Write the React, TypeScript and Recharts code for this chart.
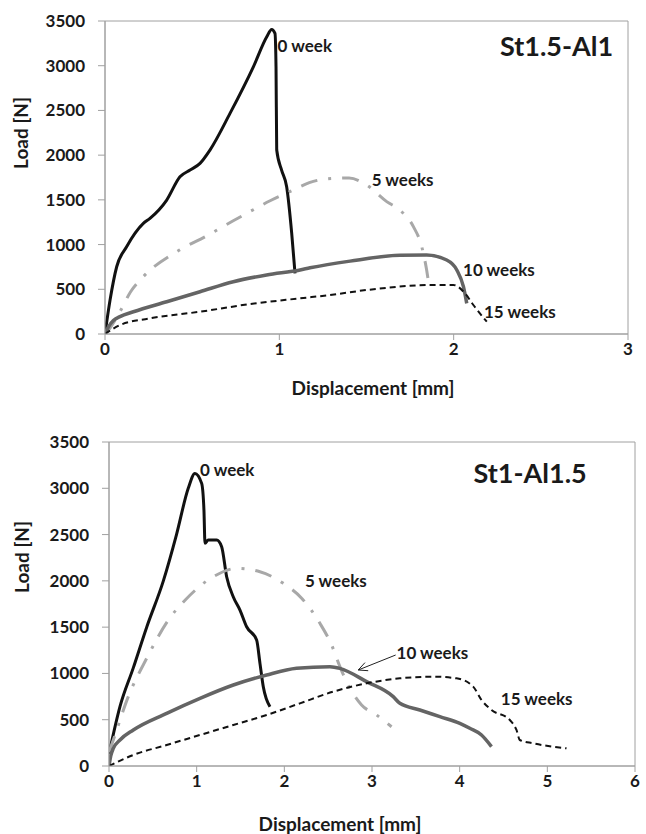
import React from "react"
import {
  LineChart, Line, XAxis, YAxis, ReferenceArea, ReferenceDot, ReferenceLine,
} from "recharts"

const FONT = "Lato, 'Open Sans', sans-serif"
const AXIS = "#a0a0a0"
const INK = "#1a1a1a"

/* St1.5-Al1 (panel oben) */
const a0X = [0, 0.029, 0.067, 0.124, 0.22, 0.258, 0.354, 0.43, 0.488, 0.545, 0.602, 0.717, 0.851, 0.928, 0.956, 0.975, 0.981, 0.985, 1.013, 1.042, 1.071, 1.09]
const a0Y = [0, 380, 752, 976, 1237, 1293, 1498, 1758, 1833, 1908, 2057, 2467, 2988, 3324, 3406, 3362, 2988, 2057, 1833, 1647, 1126, 679]
const a5X = [0, 0.03, 0.086, 0.147, 0.22, 0.427, 0.574, 0.733, 0.841, 0.947, 1.071, 1.172, 1.3, 1.4, 1.5, 1.616, 1.692, 1.769, 1.817, 1.845, 1.861]
const a5Y = [0, 70, 249, 473, 641, 939, 1088, 1263, 1379, 1490, 1602, 1692, 1740, 1745, 1666, 1480, 1385, 1200, 975, 715, 510]
const a10X = [0, 0.02, 0.048, 0.086, 0.163, 0.354, 0.545, 0.736, 0.927, 1.119, 1.176, 1.406, 1.692, 1.845, 1.96, 2.018, 2.056, 2.075]
const a10Y = [0, 80, 150, 194, 249, 361, 473, 585, 660, 716, 740, 815, 880, 883, 827, 716, 529, 343]
const a15X = [0, 0.086, 0.258, 0.545, 0.832, 1.119, 1.291, 1.501, 1.884, 1.998, 2.065, 2.113, 2.19]
const a15Y = [0, 100, 175, 249, 335, 399, 436, 492, 548, 548, 455, 324, 138]

/* St1-Al1.5 (panel unten) */
const b0X = [0, 0.125, 0.277, 0.43, 0.62, 0.77, 0.904, 0.98, 1.057, 1.083, 1.095, 1.132, 1.228, 1.285, 1.342, 1.417, 1.494, 1.57, 1.684, 1.722, 1.76, 1.836]
const b0Y = [130, 641, 1060, 1500, 2000, 2500, 3000, 3161, 3053, 2765, 2405, 2441, 2441, 2369, 2045, 1829, 1685, 1504, 1361, 1109, 857, 641]
const b5X = [0, 0.049, 0.22, 0.43, 0.677, 0.87, 1.19, 1.456, 1.722, 1.988, 2.2, 2.406, 2.539, 2.634, 2.729, 2.881, 3.052, 3.223]
const b5Y = [150, 281, 749, 1163, 1577, 1793, 2045, 2135, 2099, 1973, 1810, 1541, 1307, 1073, 875, 659, 551, 424]
const b10X = [0, 0.02, 0.049, 0.125, 0.277, 0.658, 1.038, 1.418, 1.798, 2.14, 2.52, 2.634, 2.938, 3.242, 3.318, 3.546, 3.774, 4.002, 4.116, 4.249, 4.363]
const b10Y = [0, 110, 190, 281, 389, 569, 731, 875, 983, 1055, 1073, 1055, 911, 749, 677, 605, 533, 461, 407, 335, 209]
const b15X = [0, 0.277, 0.658, 1.038, 1.418, 1.798, 2.178, 2.558, 2.938, 3.318, 3.698, 3.965, 4.154, 4.249, 4.363, 4.572, 4.648, 4.686, 4.838, 5.219]
const b15Y = [0, 119, 227, 335, 443, 551, 677, 803, 893, 947, 965, 947, 857, 713, 605, 497, 389, 281, 245, 191]

const loadTicks = [0, 500, 1000, 1500, 2000, 2500, 3000, 3500]
const topXTicks = [0, 1, 2, 3]
const botXTicks = [0, 1, 2, 3, 4, 5, 6]

const seriesNames = ["0 week", "5 weeks", "10 weeks", "15 weeks"]

/* Beschriftungen an den Kurven, in Datenkoordinaten */
const topNotes = [
  { text: seriesNames[0], x: 0.99, y: 3215 },
  { text: seriesNames[1], x: 1.53, y: 1722 },
  { text: seriesNames[2], x: 2.054, y: 716 },
  { text: seriesNames[3], x: 2.174, y: 246 },
]
const botNotes = [
  { text: seriesNames[0], x: 1.038, y: 3197 },
  { text: seriesNames[1], x: 2.235, y: 1998 },
  { text: seriesNames[2], x: 3.28, y: 1220 },
  { text: seriesNames[3], x: 4.47, y: 724 },
]
const botArrow = [{ x: 3.27, y: 1199 }, { x: 2.843, y: 1037 }]

const pts = (xs: number[], ys: number[]) => xs.map((x, i) => ({ x, y: ys[i] }))

const STYLES = [
  { stroke: "#111", strokeWidth: 3, dash: undefined },
  { stroke: "#a8a8a8", strokeWidth: 3, dash: "17 11 3 11" },
  { stroke: "#646464", strokeWidth: 3.5, dash: undefined },
  { stroke: "#111", strokeWidth: 2, dash: "6 4" },
]

const tickStyle = { fontSize: 17, fontWeight: 700, fill: INK, fontFamily: FONT }

const NoteShape = (text: string, anchor: "start" | "end" = "start", size = 17) =>
  (p: any) => (
    <text x={p.cx} y={p.cy} dy="0.35em" textAnchor={anchor}
      style={{ fontSize: size, fontWeight: 700, fill: INK, fontFamily: FONT }}>
      {text}
    </text>
  )

const ArrowShape = (p: any) => {
  const { x1, y1, x2, y2 } = p
  const a = Math.atan2(y2 - y1, x2 - x1)
  const L = 10
  const h1 = { x: x2 - L * Math.cos(a - 0.45), y: y2 - L * Math.sin(a - 0.45) }
  const h2 = { x: x2 - L * Math.cos(a + 0.45), y: y2 - L * Math.sin(a + 0.45) }
  return (
    <g stroke="#222" strokeWidth={1} fill="none">
      <line x1={x1} y1={y1} x2={x2} y2={y2} />
      <polyline points={`${h1.x},${h1.y} ${x2},${y2} ${h2.x},${h2.y}`} />
    </g>
  )
}

interface PanelProps {
  top: number
  height: number
  marginTop: number
  marginRight: number
  yAxisWidth: number
  xAxisHeight: number
  xMax: number
  xTicks: number[]
  series: { x: number; y: number }[][]
  notes: { text: string; x: number; y: number }[]
  title: string
  titlePos: { x: number; y: number }
  arrow?: { x: number; y: number }[]
}

function Panel(p: PanelProps) {
  return (
    <div style={{ position: "absolute", left: 0, top: p.top }}>
      <LineChart width={646} height={p.height}
        margin={{ top: p.marginTop, right: p.marginRight, left: 0, bottom: 0 }}>
        <XAxis type="number" dataKey="x" domain={[0, p.xMax]} ticks={p.xTicks}
          allowDataOverflow height={p.xAxisHeight} stroke={AXIS} tickSize={6}
          tickLine={{ stroke: AXIS }} tick={tickStyle} tickMargin={3} />
        <YAxis type="number" dataKey="y" domain={[0, 3500]} ticks={loadTicks}
          allowDataOverflow width={p.yAxisWidth} stroke={AXIS} tickSize={7}
          tickLine={{ stroke: AXIS }} tick={tickStyle} tickMargin={13} />
        <ReferenceArea x1={0} x2={p.xMax} y1={0} y2={3500}
          stroke={AXIS} strokeWidth={1} fill="none" fillOpacity={0} />
        {p.series.map((d, i) => (
          <Line key={i} data={d} dataKey="y" type="monotone"
            stroke={STYLES[i].stroke} strokeWidth={STYLES[i].strokeWidth}
            strokeDasharray={STYLES[i].dash} strokeLinejoin="round"
            dot={false} activeDot={false} isAnimationActive={false} />
        ))}
        {p.notes.map((n) => (
          <ReferenceDot key={n.text} x={n.x} y={n.y} r={0} shape={NoteShape(n.text)} />
        ))}
        <ReferenceDot x={p.titlePos.x} y={p.titlePos.y} r={0}
          shape={NoteShape(p.title, "end", 27)} />
        {p.arrow && (
          <ReferenceLine segment={[p.arrow[0], p.arrow[1]]} shape={ArrowShape} />
        )}
      </LineChart>
    </div>
  )
}

const titleStyle: React.CSSProperties = {
  position: "absolute",
  fontSize: 19,
  fontWeight: 700,
  color: INK,
  whiteSpace: "nowrap",
  transform: "translate(-50%, -50%)",
  lineHeight: 1,
}

export default function App() {
  return (
    <div style={{ position: "absolute", left: 0, top: 0, width: 646, height: 834, background: "#fff", fontFamily: FONT }}>
      <Panel top={0} height={400} marginTop={21} marginRight={18} yAxisWidth={105} xAxisHeight={66}
        xMax={3} xTicks={topXTicks}
        series={[pts(a0X, a0Y), pts(a5X, a5Y), pts(a10X, a10Y), pts(a15X, a15Y)]}
        notes={topNotes} title="St1.5-Al1" titlePos={{ x: 2.915, y: 3209 }} />
      <Panel top={410} height={424} marginTop={32} marginRight={11} yAxisWidth={109} xAxisHeight={68}
        xMax={6} xTicks={botXTicks}
        series={[pts(b0X, b0Y), pts(b5X, b5Y), pts(b10X, b10Y), pts(b15X, b15Y)]}
        notes={botNotes} title="St1-Al1.5" titlePos={{ x: 5.45, y: 3164 }} arrow={botArrow} />

      <div style={{ ...titleStyle, left: 373, top: 387 }}>Displacement [mm]</div>
      <div style={{ ...titleStyle, left: 340, top: 823 }}>Displacement [mm]</div>
      <div style={{ ...titleStyle, left: 20, top: 133, transform: "translate(-50%, -50%) rotate(-90deg)" }}>Load [N]</div>
      <div style={{ ...titleStyle, left: 21, top: 557, transform: "translate(-50%, -50%) rotate(-90deg)" }}>Load [N]</div>
    </div>
  )
}
